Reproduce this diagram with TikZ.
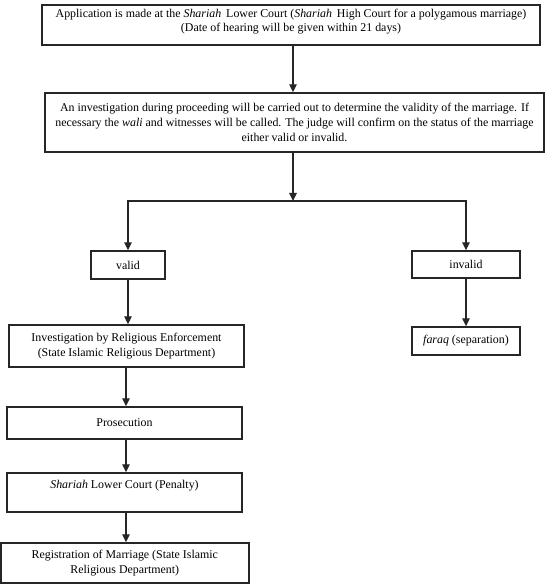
\documentclass[tikz,border=0pt]{standalone}
\usepackage{fontspec}
\setmainfont{Liberation Serif}
\usetikzlibrary{arrows.meta}
\begin{document}
\begin{tikzpicture}[x=1pt,y=-1pt,
  box/.style={draw=black!85, line width=1.4pt, fill=white, inner sep=0pt, align=center,
    font=\fontsize{11.9}{15.3}\selectfont},
  txt/.style={inner sep=0pt, align=center},
  arr/.style={draw=black!85, line width=1.2pt, -{Triangle[length=8pt,width=7.5pt]}},
  arrb/.style={draw=black!85, line width=1.2pt, {Triangle[length=8pt,width=7.5pt]}-{Triangle[length=8pt,width=7.5pt]}}]
\useasboundingbox (0,0) rectangle (545,585);
\fill[white] (0,0) rectangle (545,585);

\node[box, minimum width=498, minimum height=40] (b1) at (291,25) {};
\node[txt, font=\fontsize{11.9}{13.5}\selectfont] (t1) at (291,21.5)
  {Application is made at the \textit{Shariah}\, Lower Court (\textit{Shariah}\, High Court for a polygamous marriage)\\
   (Date of hearing will be given within 21 days)};

\node[box, minimum width=499, minimum height=59] (b2) at (294.5,122.5)
  {An investigation during proceeding will be carried out to determine the validity of the marriage. If\\
   necessary the \textit{wali} and witnesses will be called. The judge will confirm on the status of the marriage\\
   either valid or invalid.};

\coordinate (j) at (293,201);

\node[box, minimum width=74, minimum height=28] (valid) at (128,265) {valid};
\node[box, minimum width=108, minimum height=27] (invalid) at (466,264.5) {invalid};

\node[box, minimum width=235, minimum height=42] (inv) at (126.5,346)
  {Investigation by Religious Enforcement\\(State Islamic Religious Department)};
\node[box, minimum width=108, minimum height=28] (faraq) at (466,341)
  {\textit{faraq} (separation)};

\node[box, minimum width=235, minimum height=32] (pros) at (124.5,423) {Prosecution};
\node[box, minimum width=235, minimum height=39] (shar) at (124.5,492.5)
  {\textit{Shariah} Lower Court (Penalty)\\\mbox{}};
\node[box, minimum width=248, minimum height=40] (reg) at (124.8,563)
  {Registration of Marriage (State Islamic\\Religious Department)};

\draw[arr] (b1.south -| j) -- (b2.north -| j);
\draw[arr] (b2.south -| j) -- (j);
\draw[arrb] (valid.north) |- (j) -| (invalid.north);
\draw[arr] (valid.south) -- (valid.south |- inv.north);
\draw[arr] (invalid.south) -- (faraq.north);
\draw[arr] (inv.south -| 126,0) -- (pros.north -| 126,0);
\draw[arr] (pros.south -| 126,0) -- (shar.north -| 126,0);
\draw[arr] (shar.south -| 126,0) -- (reg.north -| 126,0);
\end{tikzpicture}
\end{document}
